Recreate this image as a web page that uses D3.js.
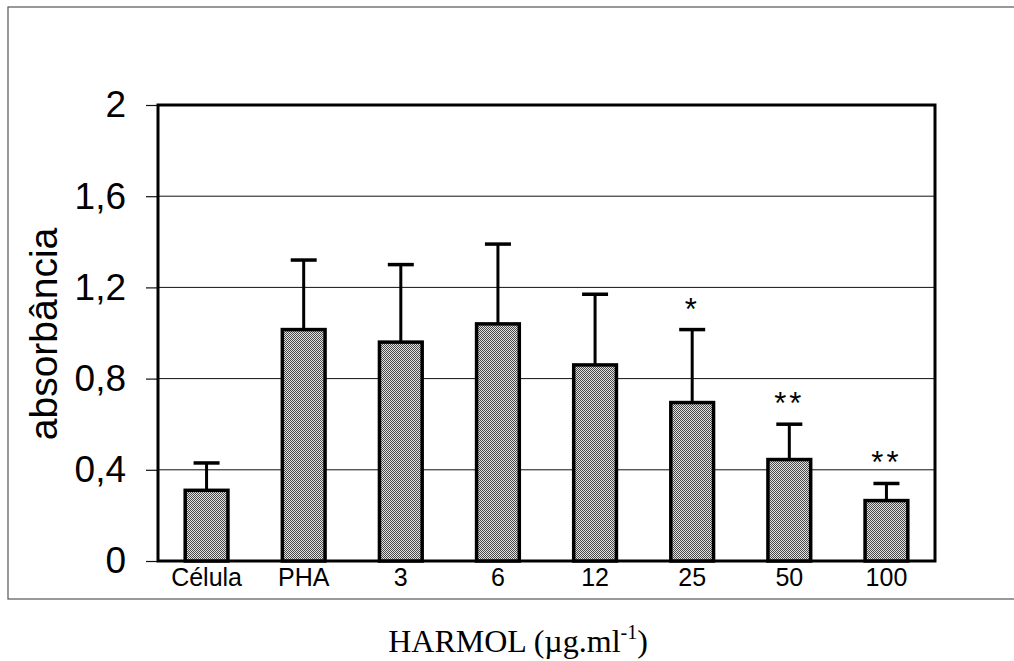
<!DOCTYPE html>
<meta charset="utf-8">
<style>
  body { margin: 0; background: #fff; }
  text { font-family: Arial, "Liberation Sans", sans-serif; }
</style>
<body>
<script src="https://d3js.org/d3.v7.min.js"></script>
<script>

// values
var categories = ["Célula", "PHA", "3", "6", "12", "25", "50", "100"];
var means  = [0.31, 1.015, 0.96, 1.04, 0.86, 0.695, 0.445, 0.265];
var errors = [0.12, 0.305, 0.34, 0.35, 0.31, 0.32, 0.155, 0.075];
var marks  = ["", "", "", "", "", "*", "**", "**"];
var yTicks = [0, 0.4, 0.8, 1.2, 1.6, 2];

var width = 1014, height = 661;
var plotLeft = 158, plotRight = 935, plotTop = 105, plotBottom = 561;

var svg = d3.select("body").append("svg")
    .attr("width", width)
    .attr("height", height);

// dotted fill like the print
var pat = svg.append("defs").append("pattern")
    .attr("id", "dots")
    .attr("width", 2).attr("height", 2)
    .attr("patternUnits", "userSpaceOnUse");
pat.append("rect").attr("width", 2).attr("height", 2).attr("fill", "#e2e2e2");
pat.append("rect").attr("width", 1).attr("height", 1).attr("fill", "#4a4a4a");
pat.append("rect").attr("x", 1).attr("y", 1).attr("width", 1).attr("height", 1).attr("fill", "#4a4a4a");

// outer frame
svg.append("rect")
    .attr("x", 8).attr("y", 7)
    .attr("width", 1020).attr("height", 592)
    .attr("fill", "none")
    .attr("stroke", "#555")
    .attr("stroke-width", 1.2);

var x = d3.scaleBand()
    .domain(categories)
    .range([plotLeft, plotRight])
    .paddingInner(0.56)
    .paddingOuter(0.28);

var y = d3.scaleLinear()
    .domain([0, 2])
    .range([plotBottom, plotTop]);

// grid
svg.append("g").selectAll("line")
  .data(yTicks.filter(function(d){ return d > 0 && d < 2; }))
  .enter().append("line")
    .attr("x1", plotLeft).attr("x2", plotRight)
    .attr("y1", function(d){ return y(d); })
    .attr("y2", function(d){ return y(d); })
    .attr("stroke", "#111")
    .attr("stroke-width", 1);

// y axis
var yAxis = d3.axisLeft(y)
    .tickValues(yTicks)
    .tickSize(12)
    .tickPadding(20)
    .tickFormat(function(d){ return d3.format("~g")(d).replace(".", ","); });

var ya = svg.append("g")
    .attr("transform", "translate(" + plotLeft + ",0)")
    .call(yAxis);
ya.select(".domain").remove();
ya.selectAll("line").attr("stroke", "#111").attr("stroke-width", 1.2);
ya.selectAll("text")
    .attr("font-size", 37)
    .attr("fill", "#000")
    .attr("font-family", "Arial, 'Liberation Sans', sans-serif");

// x axis labels
var xAxis = d3.axisBottom(x).tickSize(0).tickPadding(7);
var xa = svg.append("g")
    .attr("transform", "translate(0," + plotBottom + ")")
    .call(xAxis);
xa.select(".domain").remove();
xa.selectAll("text")
    .attr("font-size", 25)
    .attr("fill", "#000")
    .attr("font-family", "Arial, 'Liberation Sans', sans-serif");

// plot box
svg.append("rect")
    .attr("x", plotLeft).attr("y", plotTop)
    .attr("width", plotRight - plotLeft).attr("height", plotBottom - plotTop)
    .attr("fill", "none")
    .attr("stroke", "#000")
    .attr("stroke-width", 3);

// error bars
var eb = svg.append("g").selectAll("g")
  .data(categories)
  .enter().append("g");

eb.append("line")
    .attr("x1", function(d){ return x(d) + x.bandwidth() / 2; })
    .attr("x2", function(d){ return x(d) + x.bandwidth() / 2; })
    .attr("y1", function(d, i){ return y(means[i]); })
    .attr("y2", function(d, i){ return y(means[i] + errors[i]); })
    .attr("stroke", "#000")
    .attr("stroke-width", 3);

eb.append("line")
    .attr("x1", function(d){ return x(d) + x.bandwidth() / 2 - 13; })
    .attr("x2", function(d){ return x(d) + x.bandwidth() / 2 + 13; })
    .attr("y1", function(d, i){ return y(means[i] + errors[i]); })
    .attr("y2", function(d, i){ return y(means[i] + errors[i]); })
    .attr("stroke", "#000")
    .attr("stroke-width", 3.5);

// bars
svg.append("g").selectAll("rect")
  .data(categories)
  .enter().append("rect")
    .attr("x", function(d){ return x(d); })
    .attr("y", function(d, i){ return y(means[i]); })
    .attr("width", x.bandwidth())
    .attr("height", function(d, i){ return plotBottom - y(means[i]); })
    .attr("fill", "url(#dots)")
    .attr("stroke", "#000")
    .attr("stroke-width", 3.5);

// significance marks
svg.append("g").selectAll("text")
  .data(categories)
  .enter().append("text")
    .attr("x", function(d){ return x(d) + x.bandwidth() / 2; })
    .attr("y", function(d, i){ return y(means[i] + errors[i]) - 10; })
    .attr("text-anchor", "middle")
    .attr("font-size", 31)
    .attr("letter-spacing", 3)
    .text(function(d, i){ return marks[i]; });

// axis titles
svg.append("text")
    .attr("transform", "translate(57,334) rotate(-90)")
    .attr("text-anchor", "middle")
    .attr("font-size", 39)
    .text("absorbância");

var xt = svg.append("text")
    .attr("x", 518).attr("y", 652)
    .attr("text-anchor", "middle")
    .attr("font-size", 32)
    .style("font-family", "'Liberation Serif', 'Times New Roman', serif");
xt.append("tspan").text("HARMOL (µg.ml");
xt.append("tspan").attr("font-size", 20).attr("dy", -13).text("-1");
xt.append("tspan").attr("dy", 13).text(")");

</script>
</body>
